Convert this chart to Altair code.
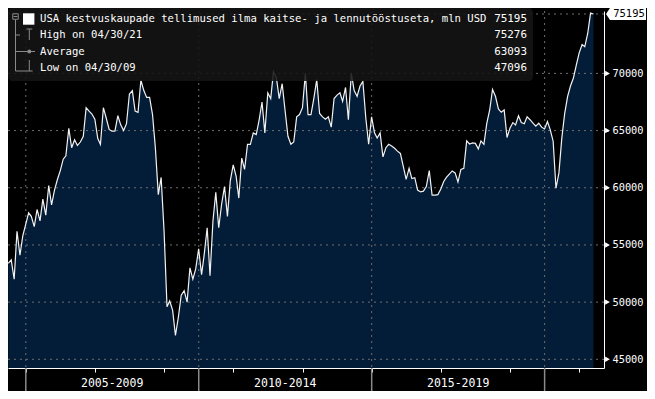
import altair as alt
import pandas as pd

# ---- data (monthly, month-end, Jun 2004 .. May 2021), mln USD ----
values = [
    53400, 53700, 52000, 56200, 54100, 55800, 56800, 57800, 57500, 56600,
    58100, 57100, 59000, 57600, 60200, 58500, 59800, 60700, 61500, 62500,
    62800, 65200, 63500, 64200, 63700, 64000, 64500, 67000, 66700, 66450,
    66000, 64300, 63800, 67000, 66100, 65100, 64950, 64950, 66300, 65500,
    65000, 65600, 68200, 68500, 66700, 66600, 69400, 68500, 67900, 67900,
    66400, 63500, 59400, 60900, 56200, 49600, 50100, 49300, 47096, 48700,
    50600, 51000, 50000, 53000, 52000, 52900, 54650, 52400, 54200, 56500,
    52300, 57100, 59600, 56500, 58600, 60100, 57500, 60600, 62000, 61000,
    59100, 62600, 61600, 63800, 63800, 64800, 64650, 65900, 67500, 64800,
    68300, 67800, 70150, 69600, 67800, 69100, 66800, 64500, 63800, 64000,
    66200, 66400, 67000, 70000, 66400, 66400, 67800, 69460, 66500, 66200,
    66000, 66200, 65300, 67800, 68100, 68300, 67550, 68770, 65960, 70000,
    68500, 68000, 68900, 69300, 66100, 63800, 66200, 64800, 64350, 64800,
    62700, 63500, 63800, 63650, 63450, 63200, 63000, 61900, 60740, 61700,
    60800, 60880, 59800, 59635, 59700, 60100, 61500, 59350, 59350, 59400,
    59900, 60550, 60900, 61200, 61470, 61300, 60500, 61609, 61700, 64100,
    63830, 63920, 63880, 63400, 64100, 63800, 65600, 66800, 68600, 68000,
    66900, 66600, 66800, 64400, 65200, 65700, 65500, 66300, 65700, 65600,
    66200, 65950, 65660, 65380, 65650, 65300, 65140, 65800, 65087, 64070,
    59957, 61300, 64300, 66500, 68000, 68900, 69600, 70700, 71800, 72530,
    72330, 73490, 75276, 75195,
]
first_month = "2004-06-01"

series_name = "USA kestvuskaupade tellimused ilma kaitse- ja lennutööstuseta, mln USD"
legend_labels = [series_name, "High on 04/30/21", "Average", "Low on 04/30/09"]
legend_values = ["75195", "75276", "63093", "47096"]
last_value = 75195
y_gridlines = [45000, 50000, 55000, 60000, 65000, 70000]
y_ticks = [45000, 47500, 50000, 52500, 55000, 57500, 60000, 62500, 65000, 67500, 70000, 72500]
period_labels = ["2005-2009", "2010-2014", "2015-2019"]
period_mid = ["2007-07-02", "2012-07-02", "2017-07-02"]
major_years = [2005, 2010, 2015, 2020]
minor_years = list(range(2005, 2022))

# ---- layout (page has an 8px margin; plot group starts at page (8, 11)) ----
W, H = 596, 357
PAD = {"left": 0, "top": 3, "right": 43, "bottom": 23}
OX, OY = 8, 11  # page offset of the plot group, used for the legend decorations
FONT = "DejaVu Sans Mono"
NAVY = "#031c38"
GRID = "#6e6e6e"
ICON = "#8a8a8a"

dates = pd.date_range(first_month, periods=len(values), freq="MS") + pd.offsets.MonthEnd(0)
df = pd.DataFrame({"date": dates, "value": values})

xscale = alt.Scale(domain=[alt.DateTime(year=2004, month=6, date=27),
                           alt.DateTime(year=2021, month=9, date=19)])
yscale = alt.Scale(domain=[44239, 75457], zero=False, nice=False)

x_axis = alt.Axis(values=[alt.DateTime(year=y, month=1, date=1) for y in minor_years],
                  labels=False, grid=False, title=None, tickColor="white", tickSize=4,
                  tickWidth=1, domainColor="white", domainWidth=1, orient="bottom")
y_axis = alt.Axis(orient="right", values=y_ticks, grid=False, title=None, format="d",
                  labelExpr="datum.value % 5000 == 0 ? datum.label : ''",
                  tickColor="white", tickSize=4, domainColor="white", domainWidth=1,
                  labelColor="white", labelFont=FONT, labelFontSize=10.3,
                  labelPadding=4, labelBaseline="middle")

base = alt.Chart(df)
area = base.mark_area(color=NAVY, clip=True).encode(
    x=alt.X("date:T", scale=xscale, axis=x_axis),
    y=alt.Y("value:Q", scale=yscale, axis=y_axis),
)
line = base.mark_line(color="#f2f2f2", strokeWidth=1.2, clip=True).encode(
    x=alt.X("date:T", scale=xscale),
    y=alt.Y("value:Q", scale=yscale),
)

hgrid_df = pd.DataFrame({"v": y_gridlines + [last_value]})
hgrid = alt.Chart(hgrid_df).mark_rule(color=GRID, strokeDash=[2, 4], strokeWidth=1).encode(
    y=alt.Y("v:Q", scale=yscale)
)
vgrid_df = pd.DataFrame({"d": pd.to_datetime([f"{y}-01-01" for y in major_years])})
vgrid = alt.Chart(vgrid_df).mark_rule(color=GRID, strokeDash=[2, 4], strokeWidth=1).encode(
    x=alt.X("d:T", scale=xscale)
)
# major ticks below the axis
vmajor = alt.Chart(vgrid_df).mark_rule(color="#8a8a8a", strokeWidth=1.5).encode(
    x=alt.X("d:T", scale=xscale), y=alt.value(H), y2=alt.value(H + 23)
)
per_df = pd.DataFrame({"d": pd.to_datetime(period_mid), "t": period_labels})
per_text = alt.Chart(per_df).mark_text(color="white", font=FONT, fontSize=11.5,
                                       baseline="middle", align="center").encode(
    x=alt.X("d:T", scale=xscale), y=alt.value(H + 16), text="t:N"
)

# right axis triangles
tri_df = pd.DataFrame({"v": y_gridlines})
tri = alt.Chart(tri_df).mark_point(shape="triangle-right", filled=True, color="white",
                                   size=30, opacity=1).encode(
    x=alt.value(W + 3.5), y=alt.Y("v:Q", scale=yscale)
)
# last value tag
last_df = pd.DataFrame({"v": [last_value], "t": [str(last_value)]})
tag = alt.Chart(last_df).mark_point(
    shape="M-1,0 L-0.8,-0.3 L1,-0.3 L1,0.3 L-0.8,0.3 Z",
    filled=True, color="white", size=1600, opacity=1, strokeWidth=0
).encode(x=alt.value(W + 22), y=alt.Y("v:Q", scale=yscale))
tag_text = alt.Chart(last_df).mark_text(color="black", font=FONT, fontSize=10.5,
                                        align="center", baseline="middle").encode(
    x=alt.value(W + 25), y=alt.Y("v:Q", scale=yscale), text="t:N"
)

# ---- legend box (positions given in page pixels, shifted into the plot group) ----
one = pd.DataFrame({"a": [0]})
rows_y = [r - OY for r in [19, 35, 51.5, 67.5]]
box = alt.Chart(one).mark_rect(color="#141414", opacity=0.88, cornerRadius=4).encode(
    x=alt.value(0), x2=alt.value(533 - OX), y=alt.value(-3), y2=alt.value(81 - OY)
)
leg_df = pd.DataFrame({"t": legend_labels, "v": legend_values, "y": rows_y})
leg_text = alt.Chart(leg_df).mark_text(color="white", font=FONT, fontSize=10.6,
                                       align="left", baseline="middle").encode(
    x=alt.value(40 - OX), y=alt.Y("y:Q", scale=None), text="t:N"
)
leg_vals = alt.Chart(leg_df).mark_text(color="white", font=FONT, fontSize=10.9,
                                       align="right", baseline="middle").encode(
    x=alt.value(527 - OX), y=alt.Y("y:Q", scale=None), text="v:N"
)
# icons
sq = alt.Chart(one).mark_square(color="white", size=130, opacity=1).encode(
    x=alt.value(28.7 - OX), y=alt.value(rows_y[0])
)
minus_box = alt.Chart(one).mark_square(filled=False, color=ICON, size=30,
                                       strokeWidth=1, opacity=1).encode(
    x=alt.value(15.5 - OX), y=alt.value(16.5 - OY)
)
tree_segs = pd.DataFrame({
    "x":  [15.5, 15.5, 15.5, 15.5, 13.5, 29.3, 26.5, 23, 29.3, 26],
    "x2": [15.5, 20, 23, 26, 17.5, 29.3, 32.3, 35, 29.3, 32.7],
    "y":  [19.5, 35, 51.5, 71, 16.5, 29, 29, 51.5, 60, 71],
    "y2": [71, 35, 51.5, 71, 16.5, 40, 29, 51.5, 71, 71],
})
tree_segs[["x", "x2"]] -= OX
tree_segs[["y", "y2"]] -= OY
tree = alt.Chart(tree_segs).mark_rule(color=ICON, strokeWidth=1).encode(
    x=alt.X("x:Q", scale=None), x2="x2:Q", y=alt.Y("y:Q", scale=None), y2="y2:Q"
)
dot = alt.Chart(one).mark_circle(color=ICON, size=16, opacity=1).encode(
    x=alt.value(29.3 - OX), y=alt.value(rows_y[2])
)

chart = alt.layer(
    area, hgrid, vgrid, line, vmajor, per_text, tri, box, tree, minus_box, sq, dot,
    leg_text, leg_vals, tag, tag_text,
).resolve_scale(x="shared", y="shared").properties(
    width=W, height=H,
    autosize=alt.AutoSizeParams(type="none"),
    padding=PAD,
    background="black",
    usermeta={"embedOptions": {"defaultStyle": "html,body{background:#000}"}},
).configure_view(stroke=None)

chart.save("out.html", embed_options={"renderer": "svg", "actions": False})
